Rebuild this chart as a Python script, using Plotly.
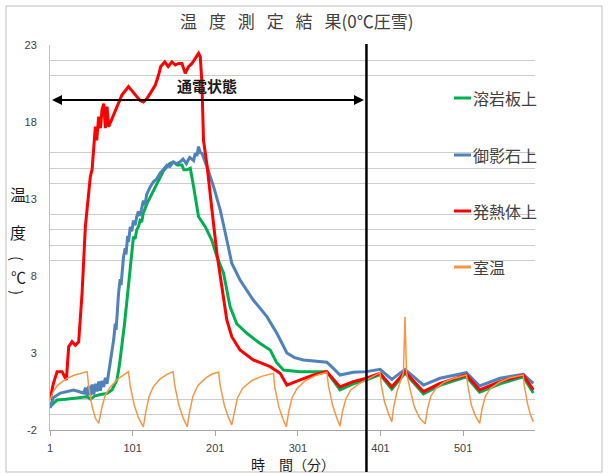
import plotly.graph_objects as go

# ---- measured temperatures (time in minutes, temperature in °C) ----
green_t = [1, 9.6, 20, 29.7, 46, 50, 55, 62, 70, 76, 82, 85, 88, 91, 94.2, 96, 98.2, 100, 102, 104, 106, 108, 110,
           112, 114, 118.4, 122, 126.4, 130, 134.5, 138, 142.6, 146, 150.6, 155, 160.7, 163, 166.8, 170.8, 174.8,
           180.8, 188.9, 197, 203, 211, 219, 227, 239.3, 255, 267.5, 275, 283.6, 303.8, 336, 352, 368, 384, 400.5,
           414.7, 430.7, 453, 473, 505, 521, 545.6, 573.8, 586]
green_v = [-0.49, -0.05, 0.0, 0.06, 0.16, 0.0, 0.2, 0.3, 0.38, 0.6, 1.25, 2.2, 3.4, 4.8, 6.44, 7.5, 8.4, 9.6, 10.55,
           10.4, 11.0, 11.2, 11.6, 11.5, 12.1, 12.7, 13.1, 13.6, 14.0, 14.45, 14.8, 15.1, 15.3, 15.4, 15.2, 15.2,
           14.9, 14.9, 15.0, 13.8, 11.85, 11.2, 10.3, 9.25, 8.2, 6.0, 4.9, 4.28, 3.63, 3.2, 2.4, 1.9, 1.79, 1.79,
           0.6, 1.0, 1.25, 1.6, 0.65, 1.7, 0.35, 0.9, 1.45, 0.45, 1.0, 1.45, 0.4]

blue_t = [1, 5, 13.6, 29.7, 41.7, 44, 46, 48, 50, 52, 54, 56, 58, 60, 62, 64, 66, 68, 70, 72, 75, 78, 80, 81, 84,
          86, 87, 90, 92, 93, 95, 96, 98.2, 100, 102, 104, 106, 108, 110, 114, 116, 118, 122.4, 126, 130, 134.5,
          138, 142.6, 146, 150, 154, 158.7, 162, 166, 170, 174.8, 176.8, 178.8, 180.8, 182.9, 184.9, 191, 199,
          207, 215, 221, 231, 247, 263.5, 275.6, 287.7, 297, 307.8, 320, 328, 336, 344, 352, 368, 384, 400.5,
          414.7, 430.7, 453, 473, 505, 521, 545.6, 573.8, 586]
blue_v = [-0.57, 0.1, 0.4, 0.6, 0.4, 0.75, 0.2, 0.85, 0.25, 0.95, 0.3, 1.0, 0.5, 1.15, 0.55, 1.2, 0.8, 1.4, 1.0,
          1.68, 2.6, 3.84, 4.9, 4.5, 6.9, 7.8, 7.4, 9.25, 9.8, 9.4, 10.6, 10.2, 11.2, 10.9, 11.6, 11.3, 11.85,
          12.2, 11.9, 12.9, 12.6, 13.3, 13.8, 14.1, 14.3, 14.7, 14.9, 15.2, 15.1, 15.4, 15.3, 15.42, 15.6, 15.3,
          15.7, 15.5, 15.97, 15.8, 16.4, 16.0, 15.97, 15.1, 13.8, 12.3, 10.34, 8.83, 7.74, 6.44, 5.36, 4.28, 3.0,
          2.7, 2.55, 2.5, 2.44, 2.4, 2.0, 1.57, 1.75, 1.79, 1.94, 1.29, 1.94, 0.92, 1.36, 1.72, 0.86, 1.36, 1.62,
          1.03]

red_t = [1, 5, 9.6, 15.6, 20.8, 23.6, 27.7, 31.7, 35.7, 39.8, 43.8, 49.8, 51.9, 55.9, 57.5, 59.9, 62, 64, 66,
         68, 70, 72, 76, 82, 88, 96, 102, 106, 110, 114, 118, 122.4, 128.5, 132.4, 135, 140, 144, 148.6, 152.6,
         156.6, 160.7, 164.7, 168.7, 172.8, 176.8, 180.8, 182.9, 184.9, 186.8, 191, 197, 203, 209, 215, 221,
         231, 247, 267.5, 279.6, 287.7, 303.8, 320, 336, 352, 368, 384, 400.5, 414.7, 430.7, 453, 473, 505, 521,
         545.6, 573.8, 586]
red_v = [-0.05, 1.0, 1.79, 1.79, 1.25, 3.4, 3.73, 3.5, 3.73, 6.88, 11.2, 14.45, 14.9, 17.7, 16.8, 18.35, 17.6,
         18.8, 19.2, 17.6, 19.0, 17.7, 18.2, 19.0, 19.75, 20.3, 19.9, 19.6, 19.4, 19.3, 19.5, 19.86, 20.4, 21.05,
         21.6, 21.9, 21.6, 21.9, 21.7, 21.8, 21.8, 21.16, 21.6, 21.8, 22.1, 22.46, 22.24, 20.5, 16.8, 15.2, 12.3,
         9.47, 7.3, 5.14, 4.06, 3.2, 2.55, 2.11, 1.68, 0.92, 1.25, 1.57, 1.79, 0.8, 1.14, 1.36, 1.68, 0.8, 1.79,
         0.49, 1.03, 1.57, 0.6, 1.14, 1.57, 0.6]

room_t = [1, 5, 10, 20, 30, 40, 46, 48, 52, 56, 60, 64, 68, 74, 84, 96, 98, 103, 108, 114, 117, 121, 126, 134,
          142, 150, 152, 157, 162, 167, 170, 174, 180, 190, 198, 205, 207, 212, 217, 221, 224, 228, 234, 245,
          258, 271.5, 273, 278, 283, 287, 290, 294, 300, 310, 323, 336, 338, 343, 348, 352, 355, 359, 365, 375,
          384, 392, 400.5, 402, 406, 411, 414.7, 417, 421, 426, 428.7, 430.7, 432.5, 437, 442, 448, 455, 458,
          462, 468, 478, 490, 505, 507, 511, 516, 521, 524, 528, 534, 545, 558, 573.8, 575, 579, 583, 586]
room_v = [-0.05, 0.5, 0.9, 1.3, 1.55, 1.7, 1.79, 0.8, -0.49, -1.24, -1.57, -0.49, 0.27, 0.8, 1.36, 1.79, 0.9,
          -0.4, -1.2, -1.79, -0.8, 0.2, 0.8, 1.3, 1.6, 1.79, 0.9, -0.4, -1.2, -1.79, -0.8, 0.2, 0.9, 1.4, 1.65,
          1.75, 0.9, -0.4, -1.2, -1.67, -0.8, 0.1, 0.7, 1.2, 1.5, 1.68, 0.8, -0.5, -1.3, -1.79, -0.8, 0.1, 0.7,
          1.2, 1.55, 1.75, 0.9, -0.4, -1.2, -1.74, -0.8, 0.0, 0.6, 1.0, 1.25, 1.5, 1.72, 0.9, -0.2, -1.0, -1.46,
          -0.5, 0.5, 1.3, 1.68, 5.36, 1.7, 0.6, -0.5, -1.2, -1.6, -0.6, 0.2, 0.7, 1.1, 1.35, 1.57, 0.8, -0.4,
          -1.1, -1.57, -0.6, 0.2, 0.7, 1.1, 1.4, 1.57, 0.9, -0.3, -1.1, -1.46]

series_names = ["溶岩板上", "御影石上", "発熱体上", "室温"]
series_data = [(green_t, green_v), (blue_t, blue_v), (red_t, red_v), (room_t, room_v)]
series_colors = ["#00b050", "#4f81bd", "#ff0000", "#f79646"]
series_widths = [3, 3, 3, 1.5]

x_ticks = [1, 101, 201, 301, 401, 501]
y_ticks = [-2, 3, 8, 13, 18, 23]
grid_levels = [-1, 0, 9, 10, 11, 12, 14, 15, 16, 21, 22]

powered_until = 384      # end of the heating period (minutes)
arrow_level = 19.43      # height of the "通電状態" arrow

# ---- page geometry ----
W, H = 609, 475
L, R, T, B = 50, 74, 45, 45
PW, PH = W - L - R, H - T - B


def px_x(px):
    return (px - L) / PW


def px_y(py):
    return (H - B - py) / PH


JP = "Noto Sans CJK JP"
TXT = "#404040"
DARK = "#1a1a1a"
GAP = "\u2002\u2009"

fig = go.Figure()
for name, (t, v), c, w in zip(series_names, series_data, series_colors, series_widths):
    fig.add_trace(go.Scatter(x=t, y=v, mode="lines", name=name,
                             line=dict(color=c, width=w), showlegend=False))

shapes = []
annotations = []


def label(text, px, py, size, color=TXT, xanchor="center", angle=0):
    annotations.append(dict(text=text, xref="paper", yref="paper",
                            x=px_x(px), y=px_y(py), xanchor=xanchor, yanchor="middle",
                            textangle=angle, borderpad=0,
                            showarrow=False, font=dict(family=JP, size=size, color=color)))


# hand-built legend on the right
legend_y = [98, 155, 211, 267]
for name, c, py in zip(series_names, series_colors, legend_y):
    shapes.append(dict(type="line", xref="paper", yref="paper",
                       x0=px_x(454), x1=px_x(471), y0=px_y(py), y1=px_y(py),
                       line=dict(color=c, width=3)))
    label(name, 472, py, 16, xanchor="left")

# end of heating marker
shapes.append(dict(type="line", xref="x", yref="paper", x0=powered_until, x1=powered_until,
                   y0=px_y(472), y1=px_y(44), line=dict(color="#000000", width=2.5), layer="above"))

# double arrow for the heating period
annotations.append(dict(x=381, y=arrow_level, ax=1.6, ay=arrow_level, xref="x", yref="y",
                        axref="x", ayref="y", text="", showarrow=True, arrowhead=2, startarrowhead=2,
                        arrowside="end+start", arrowsize=1, startarrowsize=1, arrowwidth=2,
                        arrowcolor="#000000", standoff=0, startstandoff=0))
annotations.append(dict(text="<b>通電状態</b>", x=191, y=20.4, xref="x", yref="y", showarrow=False,
                        xanchor="center", yanchor="middle",
                        font=dict(family=JP, size=15, color=DARK)))

# title
label(GAP.join("温度測定結果") + "(0℃圧雪)", 296, 20, 17)

# axis titles
label("時　間（分）", 293, 464, 14, color=DARK)
label("温", 18, 194, 16, color=DARK)
label("度", 18, 232, 16, color=DARK)
label("(", 18, 258, 15, color=DARK, angle=90)
label("℃", 18, 276, 15, color=DARK)
label(")", 18, 292, 15, color=DARK, angle=90)

# outer frame
shapes.append(dict(type="rect", xref="paper", yref="paper", x0=px_x(6), x1=px_x(602),
                   y0=px_y(472), y1=px_y(6), line=dict(color="#bfbfbf", width=1), layer="below"))

fig.update_layout(
    width=W, height=H, autosize=False,
    margin=dict(l=L, r=R, t=T, b=B, pad=0),
    paper_bgcolor="#ffffff", plot_bgcolor="#ffffff",
    showlegend=False,
    shapes=shapes, annotations=annotations,
    xaxis=dict(range=[1, 588], tickmode="array", tickvals=x_ticks, ticktext=[str(v) for v in x_ticks],
               ticks="outside", ticklen=5, tickcolor="#a6a6a6", showline=True, linecolor="#a6a6a6",
               linewidth=1, showgrid=False, zeroline=False, ticklabelstandoff=3,
               tickfont=dict(family="Liberation Sans", size=11, color=TXT)),
    yaxis=dict(range=[-2, 23], tickmode="array", tickvals=y_ticks, ticktext=[str(v) for v in y_ticks],
               ticks="", showline=True, linecolor="#bfbfbf", linewidth=1, showgrid=False, zeroline=False,
               ticklabelstandoff=10, tickfont=dict(family="Liberation Sans", size=11, color=TXT),
               minor=dict(tickmode="array", tickvals=grid_levels, showgrid=True,
                          gridcolor="#cccccc", gridwidth=1, ticks="")),
)

fig.write_html("out.html")
